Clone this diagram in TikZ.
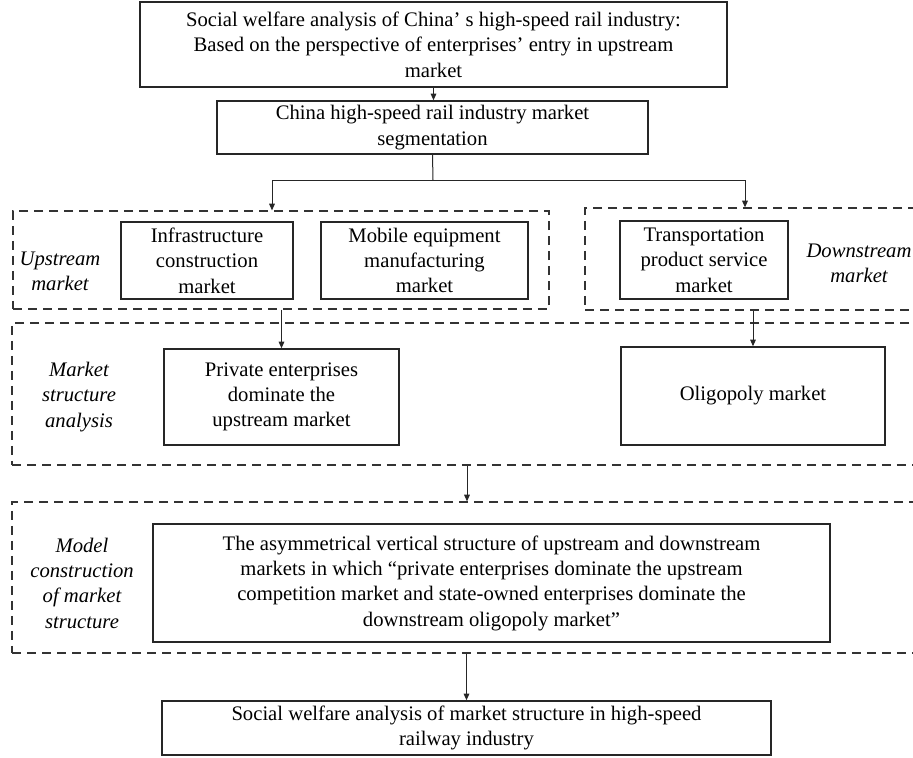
\documentclass[tikz,border=0pt]{standalone}
\usepackage{fontspec}
\setmainfont{Liberation Serif}
\usetikzlibrary{arrows.meta,calc}
\begin{document}
\begin{tikzpicture}[x=0.6pt,y=-0.6pt,
  txt/.style={font=\fontsize{12.4}{15.2}\selectfont},
  box/.style={txt,draw=black!85,line width=0.9pt,align=center,inner sep=0pt},
  sz/.style 2 args={minimum width=#1*0.6pt,minimum height=#2*0.6pt},
  grp/.style={draw=black!80,line width=0.75pt,dash pattern=on 5.4pt off 3.6pt,inner sep=0pt},
  lab/.style={txt,align=center,inner sep=0pt,font=\fontsize{12.4}{15.2}\selectfont\itshape},
  arr/.style={draw=black!85,line width=0.6pt,-{Triangle[length=4pt,width=3.4pt]}},
  ln/.style={draw=black!85,line width=0.6pt}]
\clip (0,0) rectangle (913,757);
\fill[white] (0,0) rectangle (913,757);
% groups
\node[grp,sz={536}{98}] (upgrp) at (281,260) {};
\node[grp,sz={340}{102}] (downgrp) at (755,259) {};
\node[grp,sz={910}{142}] (mktgrp) at (467,394) {};
\node[grp,sz={910}{151}] (modgrp) at (467,577.5) {};
% boxes
\node[box,sz={587}{85}] (top) at (433.5,44.5) {Social welfare analysis of China’ s high-speed rail industry:\\Based on the perspective of enterprises’ entry in upstream\\market};
\node[box,sz={431}{53}] (seg) at (432.5,127.5) {China high-speed rail industry market\\segmentation};
\node[box,sz={172}{77}] (infra) at (207,260.5) {Infrastructure\\construction\\market};
\node[box,sz={207}{77}] (mobile) at (424.5,260.5) {Mobile equipment\\manufacturing\\market};
\node[box,sz={168}{78}] (trans) at (704,260) {Transportation\\product service\\market};
\node[box,sz={235}{96}] (priv) at (281.5,397) {Private enterprises\\dominate the\\upstream market};
\node[box,sz={264}{98}] (oligo) at (753,396) {Oligopoly market};
\node[box,sz={677}{118}] (asym) at (491.5,583) {The asymmetrical vertical structure of upstream and downstream\\markets in which “private enterprises dominate the upstream\\competition market and state-owned enterprises dominate the\\downstream oligopoly market”};
\node[box,sz={609}{54}] (bot) at (466.5,728) {Social welfare analysis of market structure in high-speed\\railway industry};
% labels
\node[lab] (upl) at (60,271) {Upstream\\market};
\node[lab] (dnl) at (859,263) {Downstream\\market};
\node[lab] (msl) at (79,397) {Market\\structure\\analysis};
\node[lab] (mcl) at (82,583) {Model\\construction\\of market\\structure};
% connectors
\coordinate (j) at (433,180);
\draw[arr] (top.south) -- (top.south |- seg.north);
\draw[ln] (seg.south) -- (j);
\draw[arr] (j) -| ($(upgrp.north)+(-9,0)$);
\draw[arr] (j) -| ($(downgrp.north)+(-10,0)$);
\draw[arr] (upgrp.south -| priv.north) -- (priv.north);
\draw[arr] (downgrp.south -| oligo.north) -- (oligo.north);
\draw[arr] (mktgrp.south) -- (modgrp.north);
\draw[arr] (modgrp.south -| bot.north) -- (bot.north);
\end{tikzpicture}
\end{document}
